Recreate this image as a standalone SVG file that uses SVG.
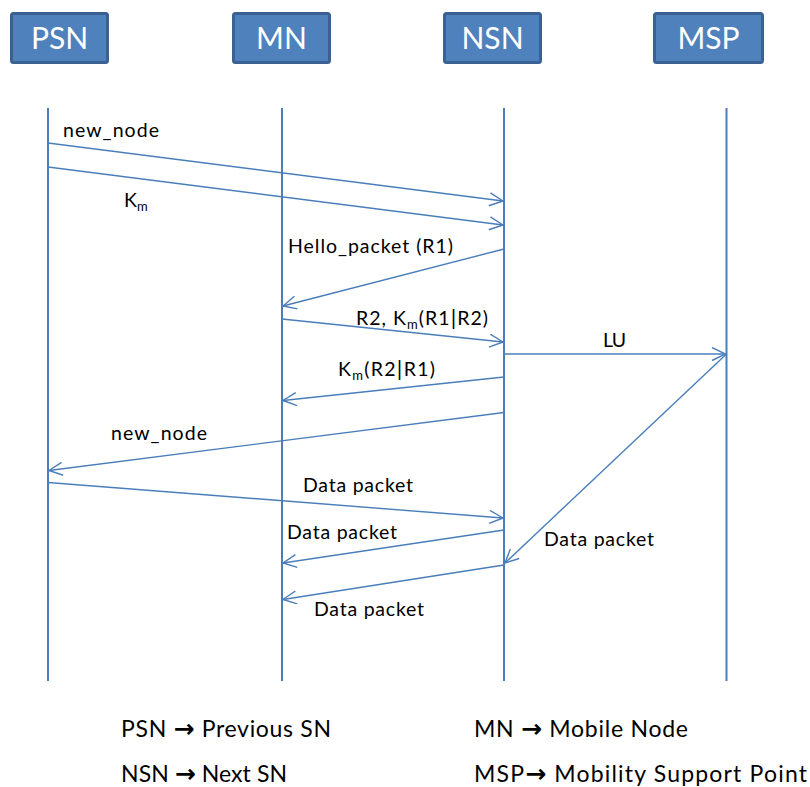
<svg xmlns="http://www.w3.org/2000/svg" width="810" height="787" viewBox="0 0 810 787">
  <defs>
    <marker id="open-arrow" markerUnits="userSpaceOnUse" markerWidth="16" markerHeight="16" viewBox="0 0 16 16" refX="14.5" refY="7" orient="auto">
      <path d="M1,0.5 L14.5,7 L1,13.5" fill="none" stroke="#4A7EBB" stroke-width="1.4"/>
    </marker>
  </defs>
  <style>
    .box { fill: #4F81BD; stroke: #3B6192; stroke-width: 3; }
    .head { font-family: Lato, "Open Sans", sans-serif; font-size: 30px; fill: #FFFFFF; text-anchor: middle; }
    .life { stroke: #4A7EBB; stroke-width: 2; fill: none; }
    .msg { stroke: #4A7EBB; stroke-width: 1.4; fill: none; marker-end: url(#open-arrow); }
    .lbl { font-family: Lato, "Open Sans", sans-serif; font-size: 19.5px; fill: #000000; }
    .sub { font-size: 13px; }
    .pipe { font-size: 22px; }
    .legend { font-family: Lato, "Open Sans", sans-serif; font-size: 23px; fill: #000000; }
    .arr { font-family: "DejaVu Sans", sans-serif; font-weight: bold; font-size: 25px; }
  </style>
  <rect width="810" height="787" fill="#FFFFFF"/>

  <!-- participants -->
  <g id="node-psn">
    <rect class="box" x="11.5" y="13.5" width="96" height="49" rx="2"/>
    <text class="head" x="59.5" y="48.5">PSN</text>
  </g>
  <g id="node-mn">
    <rect class="box" x="233.5" y="13.5" width="96" height="49" rx="2"/>
    <text class="head" x="281.5" y="48.5">MN</text>
  </g>
  <g id="node-nsn">
    <rect class="box" x="444.5" y="13.5" width="96" height="49" rx="2"/>
    <text class="head" x="492.5" y="48.5">NSN</text>
  </g>
  <g id="node-msp">
    <rect class="box" x="654.5" y="13.5" width="108" height="49" rx="2"/>
    <text class="head" x="708.5" y="48.5">MSP</text>
  </g>

  <!-- lifelines -->
  <g id="lifelines">
    <line class="life" x1="48" y1="108" x2="48" y2="681"/>
    <line class="life" x1="282" y1="108" x2="282" y2="681"/>
    <line class="life" x1="504" y1="108" x2="504" y2="681"/>
    <line class="life" x1="726.5" y1="108" x2="726.5" y2="681"/>
  </g>

  <!-- messages -->
  <g id="connectors">
    <line class="msg" x1="48" y1="143" x2="503" y2="201"/>
    <line class="msg" x1="48" y1="167" x2="503" y2="225"/>
    <line class="msg" x1="504" y1="249" x2="283" y2="306"/>
    <line class="msg" x1="282" y1="319" x2="503" y2="342"/>
    <line class="msg" x1="504" y1="354" x2="725.5" y2="354"/>
    <line class="msg" x1="504" y1="377" x2="283" y2="400.5"/>
    <line class="msg" x1="504" y1="412.5" x2="49" y2="470.5"/>
    <line class="msg" x1="48" y1="482.5" x2="503" y2="518"/>
    <line class="msg" x1="504" y1="530" x2="283" y2="563"/>
    <line class="msg" x1="726.5" y1="354" x2="505" y2="563"/>
    <line class="msg" x1="504" y1="565" x2="283" y2="599.5"/>
  </g>

  <!-- message labels -->
  <g id="labels">
    <text class="lbl" x="63" y="137" textLength="96">new_node</text>
    <text class="lbl" x="124" y="207">K<tspan class="sub" dy="4">m</tspan></text>
    <text class="lbl" x="288" y="253" textLength="165">Hello_packet (R1)</text>
    <text class="lbl" x="356" y="325" textLength="132">R2, K<tspan class="sub" dy="4">m</tspan><tspan dy="-4">(R1<tspan class="pipe">|</tspan>R2)</tspan></text>
    <text class="lbl" x="603" y="347" textLength="23">LU</text>
    <text class="lbl" x="338" y="375.5" textLength="97">K<tspan class="sub" dy="4">m</tspan><tspan dy="-4">(R2<tspan class="pipe">|</tspan>R1)</tspan></text>
    <text class="lbl" x="111" y="440" textLength="96">new_node</text>
    <text class="lbl" x="303" y="492" textLength="110">Data packet</text>
    <text class="lbl" x="287" y="539" textLength="110">Data packet</text>
    <text class="lbl" x="544" y="546" textLength="110">Data packet</text>
    <text class="lbl" x="314" y="616" textLength="110">Data packet</text>
  </g>

  <!-- legend -->
  <g id="legend">
    <text class="legend" x="121" y="737" textLength="210">PSN <tspan class="arr">→</tspan> Previous SN</text>
    <text class="legend" x="121" y="782" textLength="166">NSN <tspan class="arr">→</tspan> Next SN</text>
    <text class="legend" x="474" y="737" textLength="214">MN <tspan class="arr">→</tspan> Mobile Node</text>
    <text class="legend" x="474" y="782" textLength="333">MSP<tspan class="arr">→</tspan> Mobility Support Point</text>
  </g>
</svg>
